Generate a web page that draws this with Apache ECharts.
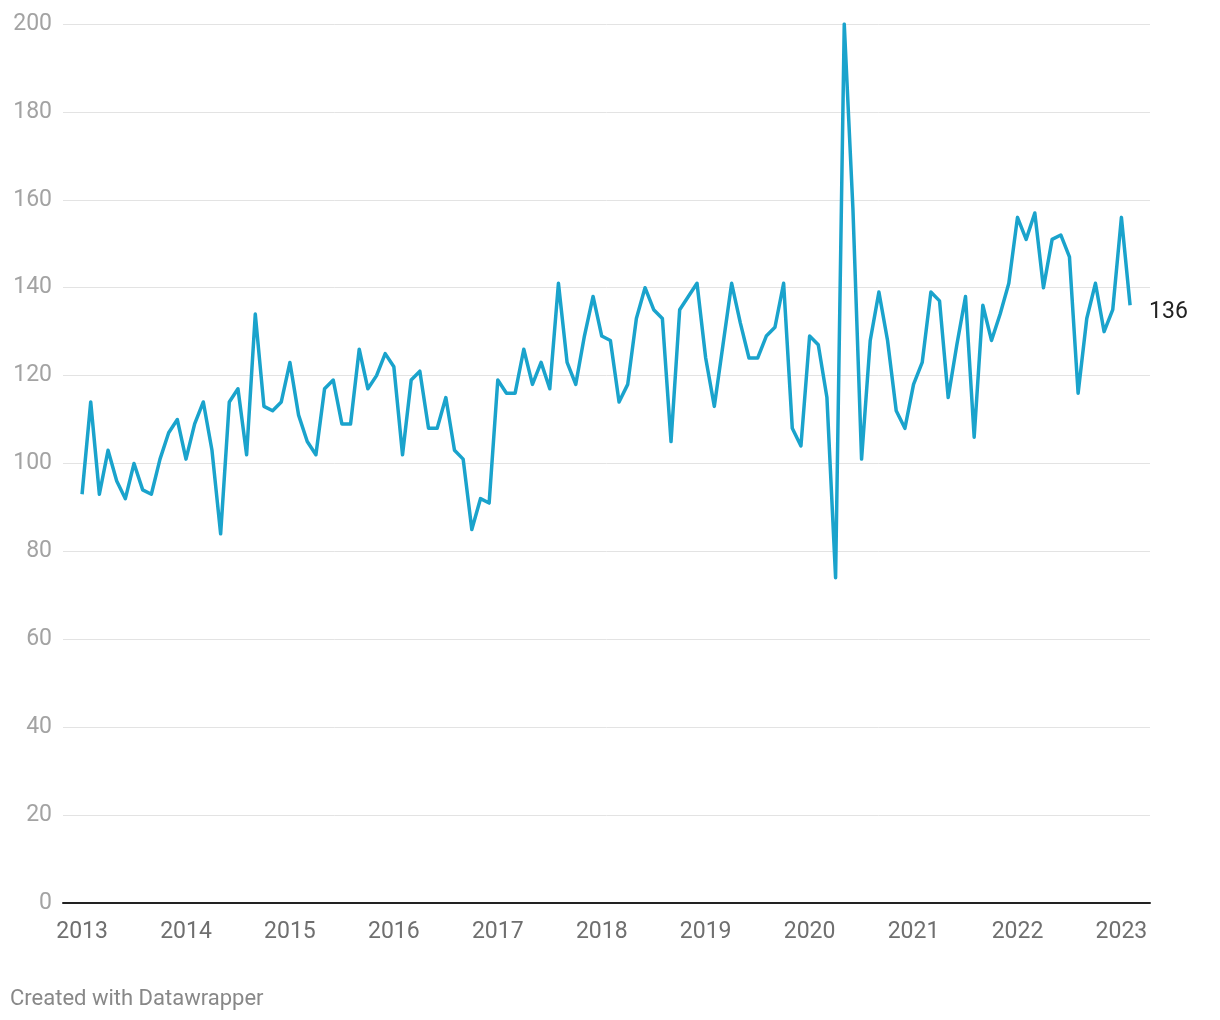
<!DOCTYPE html>
<html>
<head>
<meta charset="utf-8">
<script src="https://cdn.jsdelivr.net/npm/echarts@6/dist/echarts.min.js"></script>
<style>
html,body{margin:0;padding:0;background:#fff;}
#c{width:1220px;height:1020px;}
</style>
</head>
<body>
<div id="c"></div>
<script>
// Monthly values, Jan 2013 – Feb 2023
const v2013 = [93,114,93,103,96,92,100,94,93,101,107,110];
const v2014 = [101,109,114,103,84,114,117,102,134,113,112,114];
const v2015 = [123,111,105,102,117,119,109,109,126,117,120,125];
const v2016 = [122,102,119,121,108,108,115,103,101,85,92,91];
const v2017 = [119,116,116,126,118,123,117,141,123,118,129,138];
const v2018 = [129,128,114,118,133,140,135,133,105,135,138,141];
const v2019 = [124,113,127,141,132,124,124,129,131,141,108,104];
const v2020 = [129,127,115,74,200,158,101,128,139,128,112,108];
const v2021 = [118,123,139,137,115,127,138,106,136,128,134,141];
const v2022 = [156,151,157,140,151,152,147,116,133,141,130,135];
const v2023 = [156,136];
const years = ['2013','2014','2015','2016','2017','2018','2019','2020','2021','2022','2023'];
const yTicks = [0,20,40,60,80,100,120,140,160,180,200];

const values = [].concat(v2013,v2014,v2015,v2016,v2017,v2018,v2019,v2020,v2021,v2022,v2023);
const data = values.map((v,i)=>[i,v]);
const yearPos = years.map((y,i)=>i*12);

const chart = echarts.init(document.getElementById('c'), null, {renderer:'canvas'});
chart.setOption({
  animation:false,
  backgroundColor:'#ffffff',
  textStyle:{fontFamily:'Roboto'},
  grid:{left:63,right:70,top:24,bottom:117,containLabel:false},
  xAxis:{
    type:'value',
    min:-2.2,
    max:123.3,
    axisLine:{show:true,onZero:false,lineStyle:{color:'#222',width:2}},
    axisTick:{show:false},
    splitLine:{show:false},
    axisLabel:{
      customValues:yearPos,
      formatter:(val)=>years[Math.round(val/12)],
      color:'#6f6f6f',fontSize:23,margin:18,fontFamily:'Roboto'
    }
  },
  yAxis:{
    type:'value',
    min:0,max:200,interval:20,
    axisLine:{show:false},
    axisTick:{show:false},
    splitLine:{show:true,lineStyle:{color:'#e3e3e3',width:1}},
    axisLabel:{color:'#a3a3a3',fontSize:23,margin:11,fontFamily:'Roboto',
      formatter:(v)=>yTicks.includes(v)?String(v):''}
  },
  series:[{
    type:'line',
    data:data,
    symbol:'none',
    lineStyle:{color:'#1aa3cc',width:3.5,join:'round'},
    itemStyle:{color:'#1aa3cc'},
    endLabel:{
      show:true,
      formatter:(p)=>String(p.value[1]),
      color:'#222',fontSize:23,distance:19,offset:[0,7],fontFamily:'Roboto'
    },
    z:3
  }],
  graphic:[{
    type:'text',left:10,top:988,
    style:{text:'Created with Datawrapper',fill:'#888',fontSize:22,fontFamily:'Roboto'}
  }]
});
</script>
</body>
</html>
